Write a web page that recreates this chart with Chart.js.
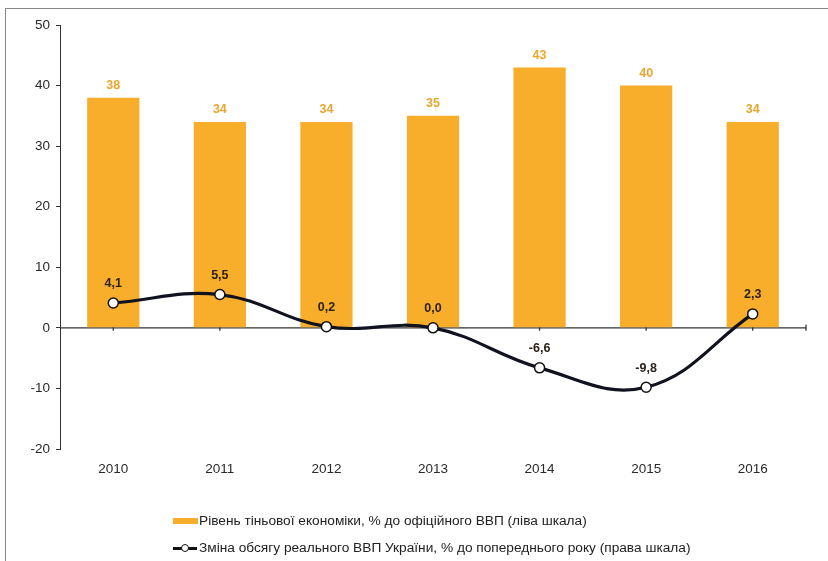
<!DOCTYPE html>
<html>
<head>
<meta charset="utf-8">
<script src="https://cdn.jsdelivr.net/npm/chart.js@4.4.1/dist/chart.umd.min.js"></script>
<style>
  html,body{margin:0;padding:0;background:#fff;}
  #wrap{position:relative;width:828px;height:561px;overflow:hidden;}
  #frame{position:absolute;left:5px;top:8px;width:830px;height:560px;border-left:1.5px solid #888;border-top:1.5px solid #888;}
  #c{position:absolute;left:0;top:0;}
  .leg{position:absolute;left:173px;font-family:"Liberation Sans",Arial,sans-serif;font-size:13.7px;color:#222;white-space:nowrap;display:flex;align-items:center;}
  .sw{display:inline-block;width:25px;height:6px;background:#F8AD2B;margin-right:1px;}
  .ls{position:relative;display:inline-block;width:24px;height:10px;margin-right:2px;}
  .ls:before{content:"";position:absolute;left:0;right:0;top:4px;height:3px;background:#111;}
  .ls:after{content:"";position:absolute;left:8px;top:1px;width:6px;height:6px;border:1.5px solid #111;border-radius:50%;background:#fff;}
</style>
</head>
<body>
<div id="wrap">
  <div id="frame"></div>
  <canvas id="c" width="828" height="561"></canvas>
  <div class="leg" style="top:513px;"><span class="sw"></span><span id="l1"></span></div>
  <div class="leg" style="top:540px;"><span class="ls"></span><span id="l2"></span></div>
</div>
<script>
const categories = ["2010","2011","2012","2013","2014","2015","2016"];
const shadowEconomy = [38, 34, 34, 35, 43, 40, 34];
const gdpChange = [4.1, 5.5, 0.2, 0.0, -6.6, -9.8, 2.3];
const yTicks = [-20, -10, 0, 10, 20, 30, 40, 50];
const seriesNames = [
  "Рівень тіньової економіки, % до офіційного ВВП (ліва шкала)",
  "Зміна обсягу реального ВВП України, % до попереднього року (права шкала)"
];
document.getElementById('l1').textContent = seriesNames[0];
document.getElementById('l2').textContent = seriesNames[1];

const FONT = '"Liberation Sans", Arial, sans-serif';

const zeroAxis = {
  id: 'zeroAxis',
  beforeDatasetsDraw(chart) {
    const {ctx, chartArea, scales} = chart;
    const y0 = scales.y.getPixelForValue(0);
    ctx.save();
    ctx.strokeStyle = '#333';
    ctx.lineWidth = 1.3;
    ctx.beginPath();
    ctx.moveTo(chartArea.left, y0);
    ctx.lineTo(chartArea.right, y0);
    const xs = categories.map((c, i) => scales.x.getPixelForValue(i));
    xs.push(chartArea.right);
    xs.forEach(x => { ctx.moveTo(x, y0 - 3); ctx.lineTo(x, y0 + 3); });
    ctx.stroke();
    ctx.restore();
  }
};

const valueLabels = {
  id: 'valueLabels',
  afterDatasetsDraw(chart) {
    const {ctx} = chart;
    ctx.save();
    ctx.textAlign = 'center';
    ctx.textBaseline = 'middle';
    const barMeta = chart.getDatasetMeta(1);
    ctx.font = 'bold 12.5px ' + FONT;
    ctx.fillStyle = '#EBA52C';
    barMeta.data.forEach((el, i) => {
      ctx.fillText(String(shadowEconomy[i]), el.x, el.y - 12);
    });
    const lineMeta = chart.getDatasetMeta(0);
    ctx.fillStyle = '#2b2218';
    lineMeta.data.forEach((el, i) => {
      ctx.fillText(gdpChange[i].toFixed(1).replace('.', ','), el.x, el.y - 19);
    });
    ctx.restore();
  }
};

new Chart(document.getElementById('c'), {
  data: {
    labels: categories,
    datasets: [
      {
        type: 'line',
        label: seriesNames[1],
        data: gdpChange,
        yAxisID: 'y1',
        borderColor: '#101220',
        borderWidth: 3.2,
        tension: 0.4,
        pointRadius: 5,
        pointBackgroundColor: '#fff',
        pointBorderColor: '#111',
        pointBorderWidth: 1.5,
        order: 0
      },
      {
        type: 'bar',
        label: seriesNames[0],
        data: shadowEconomy,
        yAxisID: 'y',
        backgroundColor: '#F8AD2B',
        categoryPercentage: 1,
        barPercentage: 0.49,
        order: 1
      }
    ]
  },
  options: {
    responsive: false,
    animation: false,
    layout: {padding: {top: 25, right: 22, left: 0, bottom: 0}},
    plugins: {legend: {display: false}, tooltip: {enabled: false}},
    scales: {
      x: {
        grid: {display: false},
        border: {display: false},
        ticks: {color: '#2a2a2a', font: {family: FONT, size: 13.5}, padding: 4},
        afterFit(s) { s.height = 112; }
      },
      y: {
        min: -20, max: 50,
        afterBuildTicks(s) { s.ticks = yTicks.map(v => ({value: v})); },
        grid: {drawOnChartArea: false, tickLength: 4, color: '#333'},
        border: {display: true, color: '#333', width: 1},
        ticks: {color: '#2a2a2a', font: {family: FONT, size: 13.5}, padding: 6},
        afterFit(s) { s.width = 60; }
      },
      y1: {
        display: false,
        min: -20, max: 50
      }
    }
  },
  plugins: [zeroAxis, valueLabels]
});
</script>
</body>
</html>
